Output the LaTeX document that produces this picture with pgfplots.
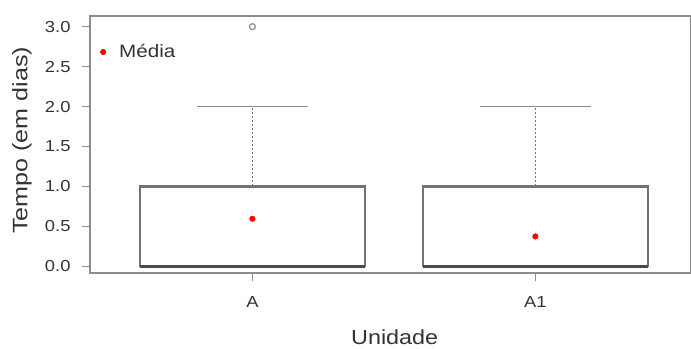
\documentclass[border=0pt]{standalone}
\usepackage{fontspec}
\setmainfont[FakeStretch=1.15]{Liberation Sans}
\newfontfamily\ylabfont[FakeStretch=1.2]{Liberation Sans}
\usepackage{pgfplots}
\pgfplotsset{compat=1.18}
\usepgfplotslibrary{statistics}
\definecolor{boxgray}{HTML}{737373}
\definecolor{framegray}{HTML}{8C8C8C}
\definecolor{medgray}{HTML}{4A4A4A}
\definecolor{txtgray}{HTML}{333333}
\begin{document}
\begin{tikzpicture}
\useasboundingbox (0,0) rectangle (691bp,349bp);
\begin{axis}[
  at={(90bp,76bp)}, anchor=south west,
  scale only axis, width=601bp, height=257bp,
  xmin=0.426, xmax=2.55, ymin=-0.083, ymax=3.134,
  xtick={1,2}, xticklabels={A,A1},
  ytick={0,0.5,1,1.5,2,2.5,3},
  xtick pos=bottom, ytick pos=left,
  tick align=outside,
  major tick length=8bp,
  tick style={draw=framegray, line width=1.4bp},
  axis line style={draw=framegray, line width=1.9bp},
  /pgf/number format/assume math mode=true,
  /pgf/number format/fixed,
  /pgf/number format/fixed zerofill,
  /pgf/number format/precision=1,
  yticklabel style={xshift=-8bp},
  xticklabel style={yshift=-12bp},
  tick label style={font=\fontsize{16}{18}\selectfont, text=txtgray},
  ylabel={Tempo (em dias)},
  xlabel={Unidade},
  ylabel style={at={(axis description cs:-0.113,0.516)}, anchor=center,
    font=\ylabfont\fontsize{21}{24}\selectfont, text=txtgray},
  xlabel style={at={(axis description cs:0.507,-0.249)}, anchor=center,
    font=\fontsize{20.4}{23}\selectfont, text=txtgray},
  legend style={at={(axis description cs:0.0166,0.86)}, anchor=west, draw=none, fill=none,
    font=\fontsize{18}{21}\selectfont, text=txtgray, inner sep=0pt},
  legend image code/.code={\fill[red] (0bp,0bp) circle (2.8bp); \path[draw=none] (0bp,0bp) -- (14bp,0bp);},
  boxplot/draw direction=y,
  boxplot/every median/.style={draw=medgray, line width=3.6bp},
  boxplot/every box/.style={draw=boxgray, line width=2.2bp, fill=white},
  boxplot/draw/lower whisker/.code={},
  boxplot/draw/upper whisker/.code={
    \draw[boxgray, line width=1.7bp, dash pattern=on 2bp off 2bp]
      (boxplot box cs:\pgfplotsboxplotvalue{upper quartile},0.5) --
      (boxplot box cs:\pgfplotsboxplotvalue{upper whisker},0.5);
    \draw[framegray, line width=1.7bp]
      (boxplot whisker cs:\pgfplotsboxplotvalue{upper whisker},0) --
      (boxplot whisker cs:\pgfplotsboxplotvalue{upper whisker},1);
  },
]
\addplot[forget plot, boxgray, line width=2.2bp,
  boxplot prepared={draw position=1, lower whisker=0, lower quartile=0, median=0,
    upper quartile=1, upper whisker=2, box extend=0.795, whisker extend=0.39},
  mark=o, mark size=3bp, mark options={framegray, line width=1.2bp, solid}]
  table[row sep=\\, y index=0] {3\\};
\addplot[forget plot, boxgray, line width=2.2bp,
  boxplot prepared={draw position=2, lower whisker=0, lower quartile=0, median=0,
    upper quartile=1, upper whisker=2, box extend=0.795, whisker extend=0.39}]
  coordinates {};
\addplot[only marks, mark=*, mark size=2.8bp, red, mark options={draw=red, fill=red}]
  coordinates {(1,0.596) (2,0.375)};
\addlegendentry{Média}
\end{axis}
\end{tikzpicture}
\end{document}
